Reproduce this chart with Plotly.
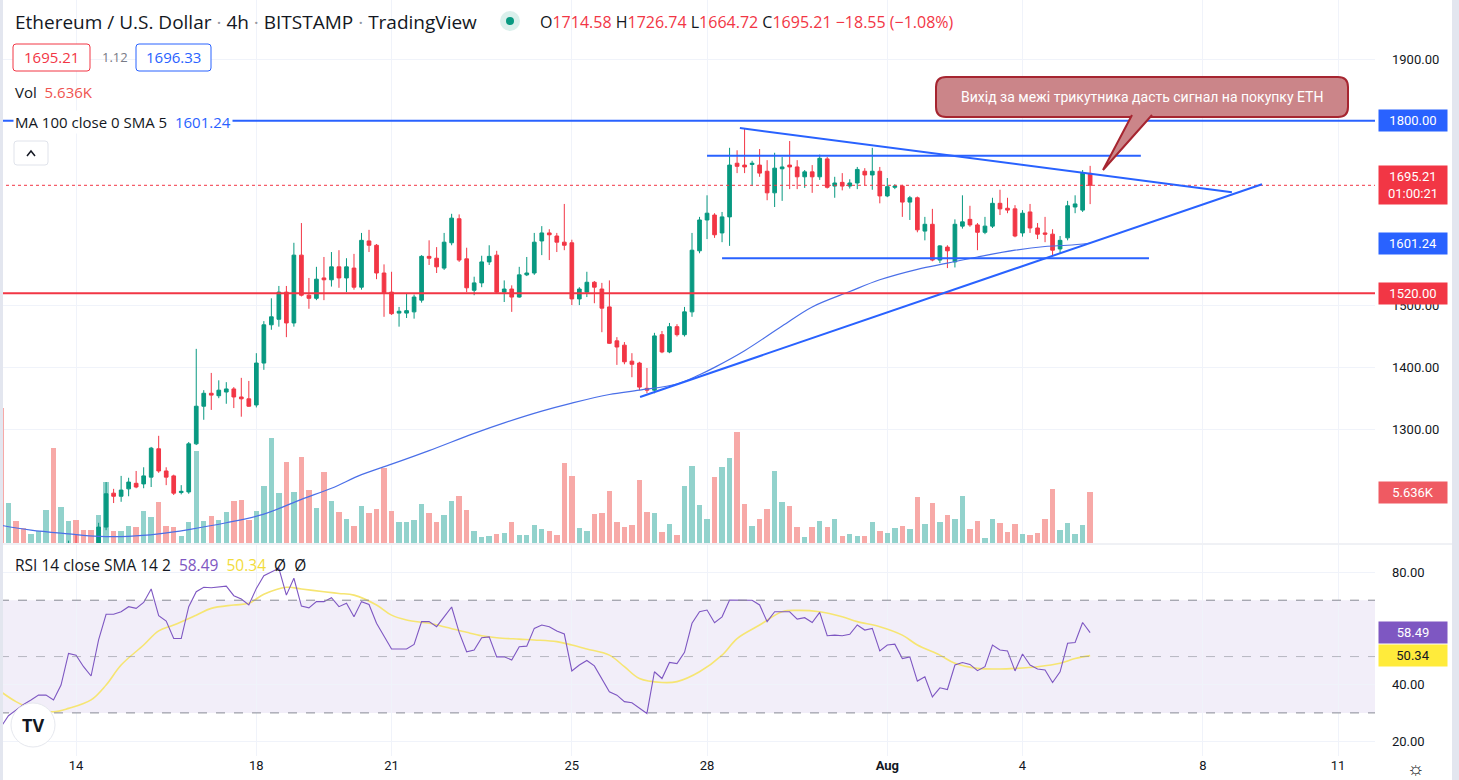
import pandas as pd
import plotly.graph_objects as go

# ── data: ETH/USD 4h, Bitstamp ──────────────────────────────────────────────
times = pd.date_range("2022-07-12 08:00", periods=146, freq="4h")

opens = [1048, 1040, 1055, 1058, 1055, 1060, 1062, 1068, 1058, 1076,
         1110, 1102, 1096, 1090, 1141, 1196, 1191, 1203, 1212, 1211,
         1222, 1268, 1232, 1224, 1197, 1198, 1276, 1337, 1358, 1354,
         1360, 1365, 1352, 1349, 1339, 1407, 1469, 1478, 1522, 1472,
         1582, 1517, 1512, 1545, 1542, 1563, 1545, 1561, 1530, 1605,
         1598, 1553, 1522, 1488, 1488, 1490, 1509, 1580, 1577, 1561,
         1602, 1641, 1576, 1525, 1537, 1571, 1582, 1522, 1527, 1514,
         1550, 1553, 1605, 1618, 1613, 1603, 1602, 1511, 1522, 1538,
         1527, 1498, 1443, 1436, 1410, 1407, 1366, 1363, 1453, 1425,
         1466, 1453, 1490, 1589, 1639, 1647, 1618, 1644, 1731, 1728,
         1729, 1728, 1718, 1683, 1722, 1728, 1725, 1709, 1717, 1709,
         1738, 1694, 1700, 1694, 1699, 1718, 1712, 1718, 1678, 1692,
         1694, 1668, 1675, 1621, 1632, 1574, 1595, 1571, 1629, 1640,
         1631, 1619, 1629, 1666, 1658, 1657, 1618, 1652, 1626, 1618,
         1616, 1592, 1610, 1660, 1655, 1714.58]
highs = [1056, 1058, 1060, 1062, 1064, 1070, 1074, 1080, 1082, 1119,
         1128, 1110, 1104, 1148, 1214, 1203, 1224, 1221, 1232, 1238,
         1271, 1289, 1238, 1226, 1209, 1279, 1430, 1363, 1391, 1379,
         1376, 1368, 1383, 1378, 1423, 1475, 1512, 1532, 1532, 1602,
         1634, 1545, 1563, 1579, 1587, 1590, 1577, 1584, 1618, 1623,
         1600, 1567, 1555, 1498, 1520, 1518, 1582, 1606, 1595, 1618,
         1649, 1648, 1594, 1547, 1581, 1598, 1589, 1541, 1533, 1563,
         1579, 1618, 1629, 1624, 1618, 1665, 1607, 1530, 1555, 1540,
         1537, 1541, 1449, 1441, 1423, 1409, 1399, 1456, 1459, 1472,
         1470, 1498, 1618, 1644, 1679, 1650, 1652, 1756, 1752, 1788,
         1735, 1754, 1736, 1748, 1741, 1767, 1736, 1720, 1728, 1745,
         1741, 1709, 1715, 1705, 1725, 1723, 1756, 1725, 1707, 1697,
         1696, 1678, 1677, 1644, 1657, 1598, 1598, 1640, 1679, 1662,
         1634, 1644, 1675, 1688, 1675, 1663, 1655, 1665, 1634, 1644,
         1624, 1613, 1670, 1679, 1720, 1726.74]
lows = [1034, 1036, 1046, 1049, 1052, 1057, 1058, 1044, 1052, 1072,
        1096, 1088, 1082, 1086, 1136, 1180, 1182, 1191, 1204, 1204,
        1206, 1229, 1209, 1193, 1194, 1195, 1274, 1315, 1331, 1350,
        1341, 1334, 1320, 1336, 1335, 1396, 1461, 1466, 1449, 1466,
        1515, 1495, 1509, 1509, 1531, 1529, 1522, 1526, 1526, 1587,
        1543, 1482, 1485, 1466, 1480, 1479, 1505, 1566, 1553, 1558,
        1598, 1571, 1522, 1517, 1530, 1566, 1520, 1506, 1490, 1513,
        1548, 1550, 1582, 1574, 1587, 1590, 1501, 1501, 1514, 1504,
        1457, 1438, 1404, 1405, 1384, 1363, 1358, 1358, 1423, 1423,
        1450, 1450, 1482, 1585, 1608, 1610, 1603, 1597, 1715, 1715,
        1694, 1709, 1671, 1660, 1670, 1689, 1689, 1691, 1683, 1704,
        1690, 1675, 1687, 1690, 1689, 1695, 1688, 1666, 1676, 1689,
        1644, 1639, 1619, 1606, 1572, 1569, 1561, 1562, 1625, 1628,
        1590, 1616, 1626, 1647, 1650, 1611, 1612, 1618, 1608, 1603,
        1581, 1585, 1606, 1650, 1652, 1664.72]
closes = [1040, 1050, 1052, 1055, 1060, 1066, 1068, 1058, 1076, 1110,
          1102, 1096, 1090, 1141, 1195, 1191, 1201, 1214, 1206, 1224,
          1269, 1232, 1222, 1196, 1199, 1276, 1337, 1358, 1355, 1363,
          1365, 1352, 1349, 1337, 1407, 1469, 1482, 1522, 1472, 1582,
          1517, 1512, 1543, 1542, 1563, 1545, 1563, 1530, 1606, 1598,
          1553, 1521, 1487, 1491, 1492, 1514, 1580, 1577, 1563, 1603,
          1642, 1574, 1529, 1537, 1571, 1580, 1522, 1527, 1514, 1550,
          1553, 1603, 1618, 1615, 1603, 1598, 1511, 1527, 1538, 1530,
          1496, 1439, 1433, 1409, 1405, 1368, 1363, 1451, 1425, 1466,
          1453, 1490, 1590, 1639, 1650, 1615, 1644, 1728, 1726, 1725,
          1731, 1715, 1683, 1723, 1725, 1725, 1709, 1717, 1709, 1739,
          1692, 1699, 1694, 1699, 1721, 1712, 1718, 1678, 1693, 1694,
          1668, 1675, 1623, 1632, 1574, 1597, 1589, 1632, 1636, 1631,
          1619, 1629, 1666, 1657, 1655, 1613, 1650, 1626, 1616, 1616,
          1590, 1606, 1662, 1665, 1715, 1695.21]
# volume in thousands of ETH
volumes = [14.9, 4.4, 2.4, 1.7, 1.0, 1.3, 3.6, 10.5, 4.0, 2.4,
           2.5, 1.4, 1.4, 3.1, 6.7, 1.3, 1.3, 1.9, 1.8, 3.5,
           2.9, 4.5, 1.9, 1.8, 0.8, 2.3, 10.2, 2.4, 3.0, 2.5,
           3.4, 4.6, 4.8, 2.5, 3.5, 6.3, 11.6, 5.5, 9.0, 5.6,
           9.5, 5.9, 3.9, 7.8, 4.6, 3.4, 2.7, 1.9, 4.1, 3.3,
           3.8, 8.3, 3.5, 2.3, 2.3, 2.5, 4.3, 3.3, 2.3, 3.1,
           4.6, 5.2, 3.6, 1.3, 0.7, 0.8, 1.0, 1.1, 2.3, 0.9,
           0.9, 2.0, 1.5, 1.3, 0.9, 8.8, 7.4, 1.7, 1.3, 3.2,
           3.3, 5.7, 2.3, 1.8, 2.0, 7.0, 3.4, 3.3, 1.2, 2.1,
           0.9, 6.3, 8.5, 4.2, 2.7, 7.3, 8.4, 9.4, 12.3, 4.3,
           1.9, 2.7, 3.8, 8.0, 4.5, 4.1, 1.8, 0.7, 1.8, 2.4,
           1.8, 2.7, 0.8, 1.0, 0.8, 0.8, 2.3, 1.3, 1.1, 1.7,
           1.9, 1.5, 5.1, 2.1, 4.4, 2.3, 3.1, 2.7, 5.2, 1.5,
           2.4, 0.6, 2.6, 2.2, 1.2, 2.1, 1.0, 0.9, 1.1, 2.6,
           6.0, 1.4, 2.2, 1.0, 2.0, 5.636]
rsi = [25, 29, 31, 33, 34.6, 36.3, 36.3, 34.6, 39.9, 51.1,
       50.5, 46.4, 43.1, 55.9, 65, 65, 65.9, 67.7, 67.1, 69.2,
       74, 64.5, 62.6, 56.4, 56.4, 67.7, 73, 74.6, 74.4, 74.8,
       75, 71.6, 70.4, 68.3, 74.2, 78.7, 79.9, 81.3, 71.8, 77.8,
       67.9, 67.3, 69.5, 69.5, 70.9, 67.7, 68.9, 64.1, 69.5, 68.5,
       61.8, 57.4, 52.7, 52.7, 52.7, 54.3, 62.4, 62.4, 60.6, 64.1,
       67.6, 58.6, 51.7, 52.3, 56.7, 57, 49.9, 49.9, 48.8, 53.5,
       53.7, 60, 61.2, 60.6, 59.1, 58, 44.9, 47, 48.6, 46.7,
       42.2, 37.5, 36.3, 34, 33.6, 31.6, 29.8, 44.6, 42.2, 47.9,
       47.5, 51.5, 61.8, 65.9, 66.5, 62, 64.1, 70.1, 70.1, 70.1,
       70, 68.3, 62.4, 65.9, 65.9, 65.9, 63.3, 63.8, 62.1, 65.7,
       57.4, 57.6, 57.4, 57.9, 61.2, 59.4, 60, 52, 54.1, 54.4,
       49.3, 49.9, 41.3, 42.8, 35.7, 38.9, 38.3, 47, 47.9, 47.2,
       45, 46.4, 54.1, 52.3, 52, 44.9, 50.9, 47, 45.6, 45.2,
       40.8, 44.6, 54.7, 55, 62.1, 58.49]
# RSI smoothing line (SMA 14), read at these bar indices
rsi_ma_idx = [0, 2, 4, 7, 9, 12, 14, 16, 19, 21, 23, 26, 28, 31, 33, 35, 38, 40, 43, 45,
              47, 50, 52, 54, 57, 59, 62, 64, 66, 69, 71, 74, 76, 78, 81, 83, 85, 88, 90, 93,
              96, 98, 101, 104, 106, 109, 112, 114, 117, 120, 122, 125, 127, 130, 133, 135, 138, 141, 143, 145]
rsi_ma_val = [37.5, 34, 31.6, 30.4, 31.6, 34.6, 39.9, 47, 54.1, 59.1, 61.2, 64.7, 67.1, 68.3, 68.9, 72.1, 74.6, 74, 73, 72.4,
              71.8, 68.3, 64.7, 63, 61.8, 60.6, 58.6, 57.4, 56.7, 56.2, 55.9, 55.3, 54.1, 52.7, 50.5, 46.4, 42.2, 40.8, 41.1, 44.6,
              50.5, 56.4, 61.2, 65.9, 66.4, 65.9, 64.1, 62.4, 60.6, 57.6, 54.1, 50.5, 47.6, 45.8, 45.6, 45.8, 46.4, 47.6, 49.3, 50.34]
# MA 100 on the price pane, read at these bar indices
ma_idx = [0, 4, 9, 13, 17, 21, 25, 30, 35, 40, 44, 48, 52, 57, 63, 67, 72, 76, 81, 85,
          90, 93, 95, 99, 104, 108, 113, 117, 122, 126, 130, 135, 139, 142, 145]
ma_val = [1144, 1136, 1130, 1126, 1126, 1130, 1137, 1148, 1162, 1186, 1204, 1226, 1243, 1265, 1293, 1310, 1329, 1342, 1356, 1363,
          1373, 1388, 1400, 1427, 1467, 1498, 1523, 1542, 1559, 1569, 1579, 1590, 1596, 1598, 1601.24]

# drawings on the chart
level_1800 = 1800
level_1520 = 1520
last_price = 1695.21
tri_top_t = ["2022-07-28 17:30", "2022-08-08 15:30"]
tri_top_p = [1788, 1684]
tri_bot_t = ["2022-07-26 12:20", "2022-08-09 07:30"]
tri_bot_p = [1352, 1697]
box_top_t = ["2022-07-28 00:00", "2022-08-06 15:00"]
box_top_p = 1743
box_bot_t = ["2022-07-28 08:00", "2022-08-06 19:20"]
box_bot_p = 1577

tick_dates = ["2022-07-14", "2022-07-18", "2022-07-21", "2022-07-25", "2022-07-28",
              "2022-08-01", "2022-08-04", "2022-08-08", "2022-08-11"]
tick_text = ["14", "18", "21", "25", "28", "<b>Aug</b>", "4", "8", "11"]
# 1600/1700/1800 and 60 sit under the value tags, as in the reference
price_ticks = [1300, 1400, 1500, 1900]
rsi_ticks = [20, 40, 80]

UP, DOWN = "#089981", "#F23645"
VOL_UP, VOL_DOWN = "#92D2CC", "#F7A9A7"
BLUE = "#2962FF"
TXT = "#131722"
GRID = "#F0F3FA"
UI_FONT = "Open Sans, Roboto, sans-serif"

# plot area in pixels (margins r=84, b=24)
W, H = 1375, 756


def px(x):
    return x / W


def py(y):
    return 1 - y / H


x_start = pd.Timestamp("2022-07-12 07:30")
x_end = x_start + pd.Timedelta(days=W / 45.07)

vol_colors = [VOL_UP if c >= o else VOL_DOWN for o, c in zip(opens, closes)]

fig = go.Figure()
fig.add_trace(go.Bar(x=times, y=volumes, yaxis="y", marker=dict(color=vol_colors, line_width=0),
                     width=4 * 3600 * 1000 * 0.72))
fig.add_trace(go.Scatter(x=[times[i] for i in ma_idx], y=ma_val, yaxis="y2", mode="lines",
                         line=dict(color="#4A6FE8", width=1.2, shape="spline")))
fig.add_trace(go.Candlestick(
    x=times, open=opens, high=highs, low=lows, close=closes, yaxis="y2",
    increasing=dict(line=dict(color=UP, width=1), fillcolor=UP),
    decreasing=dict(line=dict(color=DOWN, width=1), fillcolor=DOWN),
    whiskerwidth=0,
))
fig.add_trace(go.Scatter(x=[times[i] for i in rsi_ma_idx], y=rsi_ma_val, yaxis="y3", mode="lines",
                         line=dict(color="#F6E572", width=1.6, shape="spline")))
fig.add_trace(go.Scatter(x=times, y=rsi, yaxis="y3", mode="lines",
                         line=dict(color="#7E57C2", width=1.1)))

shapes = []
# RSI band and guide lines
shapes.append(dict(type="rect", xref="paper", yref="y3", x0=0, x1=1, y0=30, y1=70,
                   fillcolor="rgba(126,87,194,0.10)", line_width=0, layer="below"))
for lv, col in [(70, "#878A94"), (30, "#878A94"), (50, "rgba(135,138,148,0.55)")]:
    shapes.append(dict(type="line", xref="paper", yref="y3", x0=0, x1=1, y0=lv, y1=lv,
                       line=dict(color=col, width=1, dash="dash")))
# horizontal levels
shapes.append(dict(type="line", xref="paper", yref="y2", x0=0, x1=1, y0=level_1800, y1=level_1800,
                   line=dict(color=BLUE, width=2)))
shapes.append(dict(type="line", xref="paper", yref="y2", x0=0, x1=1, y0=level_1520, y1=level_1520,
                   line=dict(color=DOWN, width=2)))
shapes.append(dict(type="line", xref="paper", yref="y2", x0=0, x1=1, y0=last_price, y1=last_price,
                   line=dict(color=DOWN, width=1, dash="dot")))
# triangle and range lines
shapes.append(dict(type="line", xref="x", yref="y2", x0=tri_top_t[0], x1=tri_top_t[1],
                   y0=tri_top_p[0], y1=tri_top_p[1], line=dict(color=BLUE, width=2)))
shapes.append(dict(type="line", xref="x", yref="y2", x0=tri_bot_t[0], x1=tri_bot_t[1],
                   y0=tri_bot_p[0], y1=tri_bot_p[1], line=dict(color=BLUE, width=2)))
shapes.append(dict(type="line", xref="x", yref="y2", x0=box_top_t[0], x1=box_top_t[1],
                   y0=box_top_p, y1=box_top_p, line=dict(color=BLUE, width=2)))
shapes.append(dict(type="line", xref="x", yref="y2", x0=box_bot_t[0], x1=box_bot_t[1],
                   y0=box_bot_p, y1=box_bot_p, line=dict(color=BLUE, width=2)))


def rounded_rect(x0, y0, x1, y1, r):
    return (f"M {px(x0 + r)},{py(y0)} L {px(x1 - r)},{py(y0)} Q {px(x1)},{py(y0)} {px(x1)},{py(y0 + r)} "
            f"L {px(x1)},{py(y1 - r)} Q {px(x1)},{py(y1)} {px(x1 - r)},{py(y1)} "
            f"L {px(x0 + r)},{py(y1)} Q {px(x0)},{py(y1)} {px(x0)},{py(y1 - r)} "
            f"L {px(x0)},{py(y0 + r)} Q {px(x0)},{py(y0)} {px(x0 + r)},{py(y0)} Z")


# callout
CALL_FILL, CALL_LINE = "#CB8589", "#A62530"
shapes.append(dict(type="path", xref="paper", yref="paper", path=rounded_rect(936, 77, 1348, 117, 10),
                   fillcolor=CALL_FILL, line=dict(color=CALL_LINE, width=2)))
shapes.append(dict(type="path", xref="paper", yref="paper",
                   path=f"M {px(1132)},{py(115)} L {px(1103)},{py(170)} L {px(1152)},{py(115)}",
                   fillcolor=CALL_FILL, line=dict(color=CALL_LINE, width=2)))
# status dot
shapes.append(dict(type="circle", xref="paper", yref="paper", x0=px(500), x1=px(520), y0=py(31), y1=py(11),
                   fillcolor="rgba(8,153,129,0.15)", line_width=0))
shapes.append(dict(type="circle", xref="paper", yref="paper", x0=px(506), x1=px(514), y0=py(25), y1=py(17),
                   fillcolor=UP, line_width=0))
# value boxes under the title
shapes.append(dict(type="path", xref="paper", yref="paper", path=rounded_rect(13, 44, 90, 71, 3),
                   fillcolor="white", line=dict(color=DOWN, width=1)))
shapes.append(dict(type="path", xref="paper", yref="paper", path=rounded_rect(136, 44, 211, 71, 3),
                   fillcolor="white", line=dict(color=BLUE, width=1)))
# collapse button
shapes.append(dict(type="path", xref="paper", yref="paper",
                   path=rounded_rect(14, 141, 48, 165, 3), fillcolor="white", line=dict(color="#E0E3EB", width=1)))
shapes.append(dict(type="path", xref="paper", yref="paper",
                   path=f"M {px(27)},{py(156)} L {px(31)},{py(151)} L {px(35)},{py(156)}",
                   line=dict(color=TXT, width=1.5)))
# pane separator and frame strips
shapes.append(dict(type="line", xref="paper", yref="paper", x0=0, x1=px(1452), y0=py(544), y1=py(544),
                   line=dict(color="#E0E3EB", width=1)))
shapes.append(dict(type="rect", xref="paper", yref="paper", x0=px(1452), x1=px(1459), y0=py(780), y1=1,
                   fillcolor="#E3E6EF", line_width=0))
shapes.append(dict(type="rect", xref="paper", yref="paper", x0=0, x1=px(3), y0=py(780), y1=1,
                   fillcolor="#E3E6EF", line_width=0))
# TradingView logo disc
shapes.append(dict(type="circle", xref="paper", yref="paper", x0=px(11), x1=px(55), y0=py(747), y1=py(703),
                   fillcolor="white", line=dict(color="#E6E8EE", width=1)))

annotations = []


def ann(x, y, text, size=14, color=TXT, family=UI_FONT, **kw):
    d = dict(xref="paper", yref="paper", x=px(x), y=py(y), text=text, showarrow=False,
             xanchor="left", yanchor="middle", font=dict(size=size, color=color, family=family))
    d.update(kw)
    annotations.append(d)


dot = "<span style='color:#9598A1'> · </span>"
ann(13, 22, f"Ethereum / U.S. Dollar{dot}4h{dot}BITSTAMP{dot}TradingView", size=19)
red = DOWN


def ohlc(lbl, val):
    return f"<span style='color:{TXT}'>{lbl}</span><span style='color:{red}'>{val}</span>"


ann(538, 22, " ".join([ohlc("O", "1714.58"), ohlc("H", "1726.74"), ohlc("L", "1664.72"),
                       ohlc("C", "1695.21"), f"<span style='color:{red}'>−18.55 (−1.08%)</span>"]), size=16)
ann(51.5, 57, "1695.21", size=15, color=red, xanchor="center")
ann(100, 57, "1.12", size=13, color="#787B86")
ann(173.5, 57, "1696.33", size=15, color=BLUE, xanchor="center")
ann(13, 92, "Vol  <span style='color:#EF5350'>5.636K</span>", size=15)
ann(13, 122, f"MA 100 close 0 SMA 5  <span style='color:{BLUE}'>1601.24</span>", size=15,
    bgcolor="white")
ann(13, 565, "RSI 14 close SMA 14 2  <span style='color:#7E57C2'>58.49</span>  "
             "<span style='color:#F2DC3C'>50.34</span>  Ø  Ø", size=15.5)
ann(1142, 97, "Вихід за межі трикутника дасть сигнал на покупку ЕТН", size=14, color="white",
    xanchor="center", family="Roboto, sans-serif")
ann(33, 725, "<b>TV</b>", size=18, xanchor="center")
ann(1415, 768, "☼", size=19, xanchor="center")


def axis_tag(y, yref, text, bg, fg="white"):
    annotations.append(dict(xref="paper", yref=yref, x=px(1378), y=y, text=text, showarrow=False,
                            xanchor="left", yanchor="middle", bgcolor=bg, borderpad=3, width=62,
                            align="center", font=dict(size=13, color=fg)))


axis_tag(level_1800, "y2", "1800.00", BLUE)
axis_tag(last_price, "y2", "1695.21<br>01:00:21", DOWN)
axis_tag(ma_val[-1], "y2", "1601.24", BLUE)
axis_tag(level_1520, "y2", "1520.00", DOWN)
axis_tag(volumes[-1], "y", "5.636K", "#EF5A62")
axis_tag(rsi[-1], "y3", "58.49", "#7E57C2")
axis_tag(rsi_ma_val[-1], "y3", "50.34", "#FFEB3B", fg=TXT)

fig.update_layout(
    width=1459, height=780,
    margin=dict(l=0, r=84, t=0, b=24),
    paper_bgcolor="white", plot_bgcolor="white",
    showlegend=False, bargap=0,
    font=dict(family="Roboto, Arial, sans-serif", size=13, color=TXT),
    xaxis=dict(domain=[0, 1], range=[x_start, x_end], type="date", anchor="y3",
               rangeslider=dict(visible=False), tickmode="array", tickvals=tick_dates, ticktext=tick_text,
               showgrid=True, gridcolor=GRID, ticks="", showline=False, zeroline=False,
               tickfont=dict(size=13, color=TXT)),
    yaxis=dict(domain=[py(543), 1], range=[0, 5.636 * 543 / 51], visible=False, fixedrange=True),
    yaxis2=dict(overlaying="y", anchor="x", side="right", range=[1115.2, 1995.7],
                tickmode="array", tickvals=price_ticks, tickformat=".2f",
                showgrid=True, gridcolor=GRID, ticks="", zeroline=False, showline=False,
                ticklabelstandoff=16, tickfont=dict(size=13, color=TXT)),
    yaxis3=dict(domain=[0, py(545)], anchor="x", side="right", range=[14.7, 89.6],
                tickmode="array", tickvals=rsi_ticks, tickformat=".2f",
                showgrid=True, gridcolor=GRID, ticks="", zeroline=False, showline=False,
                ticklabelstandoff=16, tickfont=dict(size=13, color=TXT)),
    shapes=shapes,
    annotations=annotations,
)

fig.write_html("out.html", config={"displayModeBar": False},
               post_script="document.body.style.margin='0px';")
